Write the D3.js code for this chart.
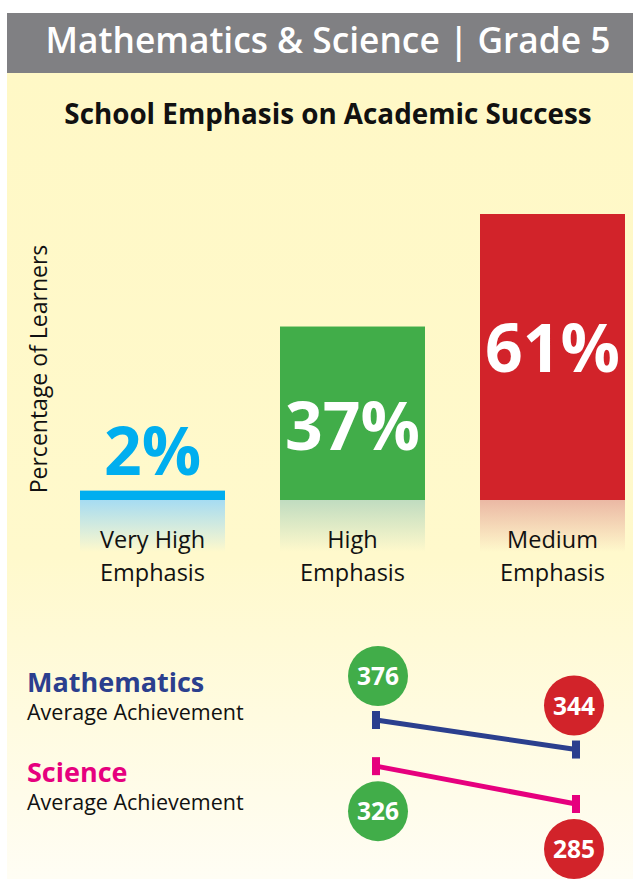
<!DOCTYPE html>
<html><head><meta charset="utf-8">
<script src="https://cdn.jsdelivr.net/npm/d3@7"></script>
<style>html,body{margin:0;padding:0;background:#fff;}svg{display:block;}</style>
</head><body>
<svg id="c" width="633" height="879"></svg>
<script>
const categories = ["Very High Emphasis", "High Emphasis", "Medium Emphasis"];
const categoryLines = [["Very High", "Emphasis"], ["High", "Emphasis"], ["Medium", "Emphasis"]];
const percentages = [2, 37, 61];
const percentLabels = ["2%", "37%", "61%"];
const subjects = ["Mathematics", "Science"];
const achievementHigh = [376, 326];   // High Emphasis
const achievementMedium = [344, 285]; // Medium Emphasis

const barColors = ["#00aeef", "#41ad49", "#d2232a"];
const reflectColors = ["#a6dcf2", "#c0dcc0", "#ebb8a4"];
const subjectColors = ["#2b3f8e", "#e6007e"];
const F = "'Open Sans', 'Noto Sans', sans-serif";

const svg = d3.select("#c");
const defs = svg.append("defs");
const bg = defs.append("linearGradient").attr("id","bg").attr("x1",0).attr("y1",0).attr("x2",0).attr("y2",1);
bg.append("stop").attr("offset","0%").attr("stop-color","#fff8c6");
bg.append("stop").attr("offset","60%").attr("stop-color","#fff9cc");
bg.append("stop").attr("offset","100%").attr("stop-color","#fffdf4");

svg.append("rect").attr("x",7).attr("y",73).attr("width",626).attr("height",806).attr("fill","url(#bg)");
svg.append("rect").attr("x",7).attr("y",13).attr("width",626).attr("height",60).attr("fill","#808083");
svg.append("text").attr("x",328).attr("y",53).attr("text-anchor","middle")
  .attr("font-family",F).attr("font-weight",600).attr("font-size",35.3).attr("fill","#fff")
  .text("Mathematics & Science | Grade 5");
svg.append("text").attr("x",328).attr("y",124).attr("text-anchor","middle")
  .attr("font-family",F).attr("font-weight",700).attr("font-size",27.8).attr("fill","#111")
  .text("School Emphasis on Academic Success");

// bars
const x = d3.scaleBand().domain(categories).range([80, 625]).paddingInner(0.275).paddingOuter(0);
const y = d3.scaleLinear().domain([0, 61]).range([500, 214]);

categories.forEach((c,i)=>{
  const g = defs.append("linearGradient").attr("id","rf"+i).attr("x1",0).attr("y1",0).attr("x2",0).attr("y2",1);
  g.append("stop").attr("offset","0%").attr("stop-color",reflectColors[i]).attr("stop-opacity",1);
  g.append("stop").attr("offset","100%").attr("stop-color",reflectColors[i]).attr("stop-opacity",0);
});

const bars = svg.append("g");
bars.selectAll("rect.refl").data(categories).join("rect").attr("class","refl")
  .attr("x",d=>x(d)).attr("y",y(0)).attr("width",x.bandwidth()).attr("height",52)
  .attr("fill",(d,i)=>`url(#rf${i})`);
bars.selectAll("rect.bar").data(percentages).join("rect").attr("class","bar")
  .attr("x",(d,i)=>x(categories[i])).attr("y",d=>y(d)).attr("width",x.bandwidth())
  .attr("height",d=>y(0)-y(d)).attr("fill",(d,i)=>barColors[i]);

bars.selectAll("text.pct").data(percentages).join("text").attr("class","pct")
  .attr("x",(d,i)=>x(categories[i])+x.bandwidth()/2)
  .attr("y",(d,i)=> i===0 ? y(d)-16 : (i===1 ? y(d)+123 : y(d)+158))
  .attr("text-anchor","middle").attr("font-family",F).attr("font-weight",700).attr("font-size",66)
  .attr("fill",(d,i)=> i===0 ? barColors[0] : "#fff")
  .text((d,i)=>percentLabels[i]);

categories.forEach((c,i)=>{
  const t = svg.append("text").attr("text-anchor","middle").attr("font-family",F).attr("font-size",23.5).attr("fill","#111");
  categoryLines[i].forEach((ln,j)=>{
    t.append("tspan").attr("x",x(c)+x.bandwidth()/2).attr("y",548+j*33).text(ln);
  });
});

svg.append("text").attr("transform","translate(47,369) rotate(-90)").attr("text-anchor","middle")
  .attr("font-family",F).attr("font-size",23).attr("fill","#111").text("Percentage of Learners");

// achievement slope
const xs = d3.scalePoint().domain(["High Emphasis","Medium Emphasis"]).range([376, 576]);
const ys = d3.scaleLinear().domain([376, 285]).range([720, 804]);

subjects.forEach((s,i)=>{
  const by = i===0 ? 692 : 782;
  svg.append("text").attr("x",27).attr("y",by).attr("font-family",F).attr("font-weight",700)
    .attr("font-size",27).attr("fill",subjectColors[i]).text(s);
  svg.append("text").attr("x",27).attr("y",by+28).attr("font-family",F)
    .attr("font-size",21.5).attr("fill","#111").text("Average Achievement");

  const pts = [[xs("High Emphasis"), ys(achievementHigh[i])],[xs("Medium Emphasis"), ys(achievementMedium[i])]];
  svg.append("path").attr("d", d3.line()(pts)).attr("stroke",subjectColors[i]).attr("stroke-width",5).attr("fill","none");
  pts.forEach(p=>{
    svg.append("rect").attr("x",p[0]-4).attr("y",p[1]-9).attr("width",8).attr("height",18).attr("fill",subjectColors[i]);
  });
  const vals = [achievementHigh[i], achievementMedium[i]];
  const cols = ["#41ad49","#d2232a"];
  const off = i===0 ? -44 : 45;
  pts.forEach((p,k)=>{
    svg.append("circle").attr("cx",p[0]+(k===0?2:-2)).attr("cy",p[1]+off).attr("r",30).attr("fill",cols[k]);
    svg.append("text").attr("x",p[0]+(k===0?2:-2)).attr("y",p[1]+off+9).attr("text-anchor","middle")
      .attr("font-family",F).attr("font-weight",700).attr("font-size",24.5).attr("fill","#fff").text(vals[k]);
  });
});
</script>
</body></html>
